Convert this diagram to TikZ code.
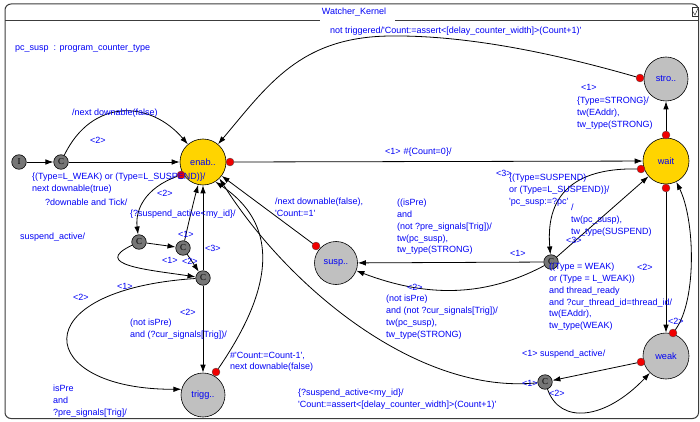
\documentclass[tikz,border=0pt]{standalone}
\usepackage{fontspec}
\setmainfont{Liberation Sans}[Ligatures=TeXOff]
\newfontfamily\cfont{Liberation Serif}
\usetikzlibrary{arrows.meta}
\definecolor{lblue}{RGB}{0,0,245}
\definecolor{styellow}{RGB}{255,212,0}
\definecolor{stgray}{RGB}{192,192,192}
\definecolor{cmgray}{RGB}{118,118,118}
\definecolor{dotred}{RGB}{240,0,0}
\definecolor{framegray}{RGB}{60,60,60}

\begin{document}
\begin{tikzpicture}[x=1pt,y=-1pt,
  every node/.style={inner sep=0pt},
  lbl/.style={anchor=north west, align=left, text=lblue, yshift=5.4pt,
    font=\fontsize{9}{11.9}\selectfont, execute at begin node=\strut},
  ystate/.style={circle, draw=black, line width=0.6pt, fill=styellow, minimum size=46pt,
    text=lblue, font=\fontsize{9.2}{10}\selectfont},
  gstate/.style={circle, draw=black, line width=0.6pt, fill=stgray, minimum size=45pt,
    text=lblue, font=\fontsize{9.2}{10}\selectfont},
  commit/.style={circle, draw=black, line width=0.6pt, fill=cmgray, minimum size=14.5pt,
    font=\cfont\fontsize{9}{9}\selectfont},
  srcdot/.style={circle, draw=black!70, line width=0.3pt, fill=dotred, minimum size=8pt},
  conn/.style={draw=black, line width=0.8pt, -{Latex[length=8pt,width=5.5pt]}}
]
\useasboundingbox (0,0) rectangle (700,422);

% frame and title bar
\draw[framegray, line width=1pt, rounded corners=6pt] (5,4) rectangle (698.5,418.5);
\draw[framegray, line width=0.8pt] (5,20) -- (320,20);
\draw[framegray, line width=0.8pt] (395,20) -- (698.5,20);
\node[text=lblue, font=\fontsize{9}{10}\selectfont] (title) at (354,12) {Watcher\_Kernel};
\draw[black!80, line width=0.5pt] (692,7.5) rectangle (698,16.5);
\draw[black!80, line width=0.5pt] (692.5,11) -- (695,15) -- (698,8.5);

% states
\node[commit] (init) at (19,162) {I};
\node[commit] (c1) at (61,162) {C};
\node[ystate] (enab) at (203,162) {enab..};
\node[ystate] (wait) at (666,161) {wait};
\node[gstate, minimum size=44pt] (stro) at (666,79) {stro..};
\node[gstate, minimum size=43pt] (susp) at (336,263) {susp..};
\node[gstate, minimum size=44pt] (trigg) at (203,395) {trigg..};
\node[gstate, minimum size=46pt] (weak) at (666,356) {weak};
\node[commit] (c2) at (139,242) {C};
\node[commit] (c3) at (183,248) {C};
\node[commit] (c4) at (203,278) {C};
\node[commit] (c5) at (551,262) {C};
\node[commit] (c6) at (545,382) {C};

% source markers of outgoing transitions
\node[srcdot] (dEW) at (230,162) {};
\node[srcdot] (dEC) at (181,175) {};
\node[srcdot] (dWC) at (641,169) {};
\node[srcdot] (dWB) at (666,188) {};
\node[srcdot] (dWT) at (666,135) {};
\node[srcdot] (dS) at (640,78) {};
\node[srcdot] (dSu) at (316,246) {};
\node[srcdot] (dT) at (216,372) {};
\node[srcdot] (dK1) at (641,362) {};
\node[srcdot] (dK2) at (673,333) {};

% transitions
\draw[conn] (init) -- (c1);
\draw[conn] (c1) -- (enab);
\draw[conn] (c1) .. controls (92,98) and (150,100) .. (enab);
\draw[conn] (dEW) -- (wait);
\draw[conn] (dS) .. controls (560,55) and (470,35) .. (390,36) .. controls (300,37) and (268,85) .. (enab);
\draw[conn] (dWT) -- (stro);
\draw[conn] (dWC) .. controls (580,168) and (545,190) .. (c5);
\draw[conn] (c5) -- (wait);
\draw[conn] (c5) -- (susp);
\draw[conn] (c5) .. controls (480,300) and (420,295) .. (susp);
\draw[conn] (dWB) -- (weak);
\draw[conn] (dK2) .. controls (697,300) and (695,220) .. (wait);
\draw[conn] (dK1) -- (c6);
\draw[conn] (c6) .. controls (560,425) and (605,420) .. (weak);
\draw[conn] (c6) .. controls (420,395) and (290,290) .. (enab.315);
\draw[conn] (dSu) -- (enab);
\draw[conn] (dT) .. controls (255,315) and (295,235) .. (enab.302);
\draw[conn] (c3) .. controls (188,225) and (194,200) .. (enab.258);
\draw[conn] (c4) -- (enab.south);
\draw[conn] (c4) -- (trigg);
\draw[conn] (dEC) .. controls (145,188) and (135,210) .. (c2);
\draw[conn] (c2) -- (c3);
\draw[conn] (c3) -- (c4);
\draw[conn] (c2) .. controls (90,265) and (150,270) .. (c4);
\draw[conn] (c4) .. controls (20,290) and (35,390) .. (trigg.165);

% declarations and transition labels
\node[lbl] (decl) at (15,47) {pc\_susp\hspace{5pt}: program\_counter\_type};
\node[lbl] (t1) at (330,30) {not triggered/'Count:=assert<[delay\_counter\_width]>(Count+1)'};
\node[lbl] (t2) at (72,112) {/next downable(false)};
\node[lbl] (t3) at (90,140) {<2>};
\node[lbl] (t4) at (32,178) {\{(Type=L\_WEAK) or (Type=L\_SUSPEND)\}/\\next downable(true)};
\node[lbl] (t5) at (45,202) {?downable and Tick/};
\node[lbl] (t6) at (157,193) {<2>};
\node[lbl] (t7) at (130,213) {\{?suspend\_active<my\_id\}/};
\node[lbl] (t8) at (20,236) {suspend\_active/};
\node[lbl] (t9) at (178,234) {<1>};
\node[lbl] (t10) at (205,248) {<3>};
\node[lbl] (t11) at (162,260) {<1>};
\node[lbl] (t12) at (182,261) {<2>};
\node[lbl] (t13) at (117,286) {<1>};
\node[lbl] (t14) at (73,297) {<2>};
\node[lbl] (t15) at (180,312) {<2>};
\node[lbl] (t16) at (130,324) {(not isPre)\\and (?cur\_signals[Trig])/};
\node[lbl] (t17) at (53,390) {isPre\\and\\?pre\_signals[Trig]/};
\node[lbl] (t18) at (230,357) {\#'Count:=Count-1',\\next downable(false)};
\node[lbl] (t19) at (275,203) {/next downable(false),\\'Count:=1'};
\node[lbl] (t20) at (385,151) {<1>\hspace{3pt}\#\{Count=0\}/};
\node[lbl] (t21) at (397,204) {((isPre)\\and\\(not ?pre\_signals[Trig])/\\tw(pc\_susp),\\tw\_type(STRONG)};
\node[lbl] (t22) at (510,253) {<1>};
\node[lbl] (t23) at (407,287) {<2>};
\node[lbl] (t24) at (386,300) {(not isPre)\\and (not ?cur\_signals[Trig])/\\tw(pc\_susp),\\tw\_type(STRONG)};
\node[lbl] (t25) at (298,394) {\{?suspend\_active<my\_id\}/\\'Count:=assert<[delay\_counter\_width]>(Count+1)'};
\node[lbl] (t26) at (522,383) {<1>};
\node[lbl] (t27) at (549,393) {<2>};
\node[lbl] (t28) at (522,353) {<1> suspend\_active/};
\node[lbl] (t29) at (668,321) {<2>};
\node[lbl] (t30) at (549,268) {((Type = WEAK)\\or (Type = L\_WEAK))\\and thread\_ready\\and ?cur\_thread\_id=thread\_id/\\tw(EAddr),\\tw\_type(WEAK)};
\node[lbl] (t31) at (637,267) {<2>};
\node[lbl] (t32) at (496,173) {<3>};
\node[lbl] (t33) at (509,179) {\{(Type=SUSPEND)\\or (Type=L\_SUSPEND)\}/\\'pc\_susp:=?pc'};
\node[lbl] (t34) at (571,209) {/\\tw(pc\_susp),\\tw\_type(SUSPEND)};
\node[lbl] (t35) at (566,240) {<3>};
\node[lbl] (t36) at (581,87) {<1>};
\node[lbl] (t37) at (577,102) {\{Type=STRONG\}/\\tw(EAddr),\\tw\_type(STRONG)};
\end{tikzpicture}
\end{document}
